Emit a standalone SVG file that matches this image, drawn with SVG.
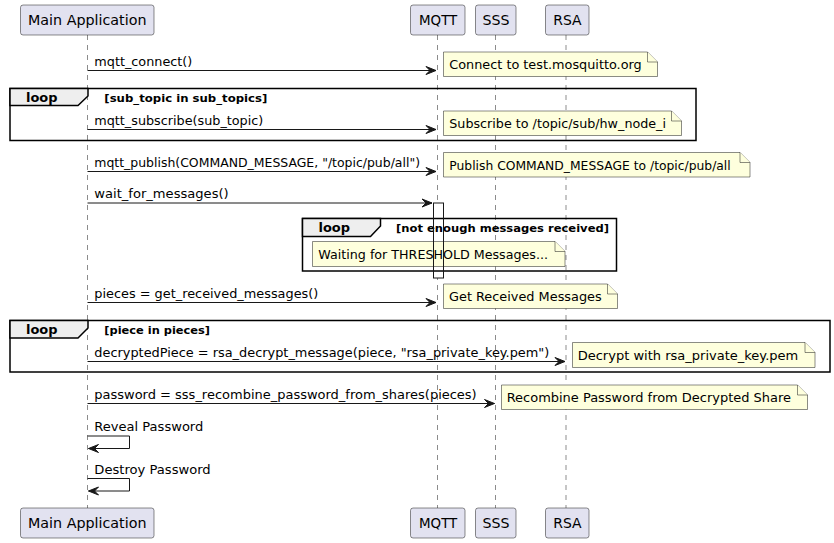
<svg xmlns="http://www.w3.org/2000/svg" width="834" height="543" viewBox="0 0 834 543">
<defs>
<style>
text{font-family:"DejaVu Sans","Liberation Sans",sans-serif;fill:#000}
.pbox{fill:#E2E2F0;stroke:#181818;stroke-width:0.5}
.pt{font-size:14px}
.life{stroke:#181818;stroke-width:0.5;stroke-dasharray:5,5;fill:none}
.msg{stroke:#181818;stroke-width:1;fill:none}
.head{fill:#181818;stroke:#181818;stroke-width:1}
.mt{font-size:13px}
.note{fill:#FEFFDD;stroke:#181818;stroke-width:0.5}
.nt{font-size:13px}
.frame{fill:none;stroke:#000;stroke-width:1.5}
.tab{fill:#EEEEEE;stroke:#000;stroke-width:1.5}
.lk{font-size:13px;font-weight:bold}
.lc{font-size:11px;font-weight:bold}
</style>
</defs>
<rect width="834" height="543" fill="#FFFFFF"/>

<g id="lifelines">
<line class="life" x1="87.5" y1="35" x2="87.5" y2="508"/>
<line class="life" x1="437.5" y1="35" x2="437.5" y2="508"/>
<line class="life" x1="495.5" y1="35" x2="495.5" y2="508"/>
<line class="life" x1="566" y1="35" x2="566" y2="508"/>
</g>

<g id="participant-main">
<rect class="pbox" x="20.5" y="5" width="133.5" height="30" rx="2.5"/>
<text class="pt" x="28" y="24.5" textLength="118.5" lengthAdjust="spacingAndGlyphs">Main Application</text>
<rect class="pbox" x="20.5" y="508" width="133.5" height="30" rx="2.5"/>
<text class="pt" x="28" y="527.5" textLength="118.5" lengthAdjust="spacingAndGlyphs">Main Application</text>
</g>
<g id="participant-mqtt">
<rect class="pbox" x="410.5" y="5" width="54.5" height="30" rx="2.5"/>
<text class="pt" x="419" y="24.5" textLength="38.3" lengthAdjust="spacingAndGlyphs">MQTT</text>
<rect class="pbox" x="410.5" y="508" width="54.5" height="30" rx="2.5"/>
<text class="pt" x="419" y="527.5" textLength="38.3" lengthAdjust="spacingAndGlyphs">MQTT</text>
</g>
<g id="participant-sss">
<rect class="pbox" x="475.5" y="5" width="40.5" height="30" rx="2.5"/>
<text class="pt" x="482.5" y="24.5" textLength="27" lengthAdjust="spacingAndGlyphs">SSS</text>
<rect class="pbox" x="475.5" y="508" width="40.5" height="30" rx="2.5"/>
<text class="pt" x="482.5" y="527.5" textLength="27" lengthAdjust="spacingAndGlyphs">SSS</text>
</g>
<g id="participant-rsa">
<rect class="pbox" x="545.5" y="5" width="43.5" height="30" rx="2.5"/>
<text class="pt" x="553.3" y="24.5" textLength="28.3" lengthAdjust="spacingAndGlyphs">RSA</text>
<rect class="pbox" x="545.5" y="508" width="43.5" height="30" rx="2.5"/>
<text class="pt" x="553.3" y="527.5" textLength="28.3" lengthAdjust="spacingAndGlyphs">RSA</text>
</g>

<g id="activation-fill">
<rect x="433.5" y="203" width="10" height="75" fill="#FFFFFF"/>
</g>

<g id="loop-1">
<rect class="frame" x="10" y="88.5" width="686" height="52"/>
<path class="tab" d="M10,88.5 L88,88.5 L88,96 L78,105.5 L10,105.5 Z"/>
<text class="lk" x="26" y="101.5" textLength="31.5" lengthAdjust="spacingAndGlyphs">loop</text>
<text class="lc" x="104.3" y="101.5" textLength="163" lengthAdjust="spacingAndGlyphs">[sub_topic in sub_topics]</text>
</g>
<g id="loop-2">
<rect class="frame" x="302.5" y="218.5" width="314" height="52.5"/>
<path class="tab" d="M302.5,218.5 L380.5,218.5 L380.5,226 L370.5,236.5 L302.5,236.5 Z"/>
<text class="lk" x="318.5" y="231.5" textLength="31.5" lengthAdjust="spacingAndGlyphs">loop</text>
<text class="lc" x="396" y="231.5" textLength="213" lengthAdjust="spacingAndGlyphs">[not enough messages received]</text>
</g>
<g id="loop-3">
<rect class="frame" x="10" y="320.5" width="820" height="51.5"/>
<path class="tab" d="M10,320.5 L88,320.5 L88,328 L78,338 L10,338 Z"/>
<text class="lk" x="26" y="333.5" textLength="31.5" lengthAdjust="spacingAndGlyphs">loop</text>
<text class="lc" x="104.3" y="333.5" textLength="105.7" lengthAdjust="spacingAndGlyphs">[piece in pieces]</text>
</g>

<g id="connectors">
<line class="msg" x1="87.5" y1="70.5" x2="436" y2="70.5"/>
<polygon class="head" points="426,66.5 436,70.5 426,74.5 430,70.5"/>
<text class="mt" x="94.3" y="65.5" textLength="98" lengthAdjust="spacingAndGlyphs">mqtt_connect()</text>

<line class="msg" x1="87.5" y1="129.5" x2="436" y2="129.5"/>
<polygon class="head" points="426,125.5 436,129.5 426,133.5 430,129.5"/>
<text class="mt" x="94.3" y="124.5" textLength="169" lengthAdjust="spacingAndGlyphs">mqtt_subscribe(sub_topic)</text>

<line class="msg" x1="87.5" y1="171.5" x2="436" y2="171.5"/>
<polygon class="head" points="426,167.5 436,171.5 426,175.5 430,171.5"/>
<text class="mt" x="94.3" y="166.5" textLength="325.7" lengthAdjust="spacingAndGlyphs">mqtt_publish(COMMAND_MESSAGE, "/topic/pub/all")</text>

<line class="msg" x1="87.5" y1="203" x2="432" y2="203"/>
<polygon class="head" points="422,199 432,203 422,207 426,203"/>
<text class="mt" x="94.3" y="198" textLength="134.4" lengthAdjust="spacingAndGlyphs">wait_for_messages()</text>

<line class="msg" x1="87.5" y1="302.5" x2="436" y2="302.5"/>
<polygon class="head" points="426,298.5 436,302.5 426,306.5 430,302.5"/>
<text class="mt" x="94.3" y="297.5" textLength="224" lengthAdjust="spacingAndGlyphs">pieces = get_received_messages()</text>

<line class="msg" x1="87.5" y1="361.5" x2="565" y2="361.5"/>
<polygon class="head" points="555,357.5 565,361.5 555,365.5 559,361.5"/>
<text class="mt" x="94.3" y="356.5" textLength="455" lengthAdjust="spacingAndGlyphs">decryptedPiece = rsa_decrypt_message(piece, "rsa_private_key.pem")</text>

<line class="msg" x1="87.5" y1="403.5" x2="494.5" y2="403.5"/>
<polygon class="head" points="484.5,399.5 494.5,403.5 484.5,407.5 488.5,403.5"/>
<text class="mt" x="94.3" y="398.5" textLength="382.4" lengthAdjust="spacingAndGlyphs">password = sss_recombine_password_from_shares(pieces)</text>

<polyline class="msg" points="87.5,436 129.5,436 129.5,448.5 88.5,448.5"/>
<polygon class="head" points="98.5,444.5 88.5,448.5 98.5,452.5 94.5,448.5"/>
<text class="mt" x="94.3" y="431" textLength="109" lengthAdjust="spacingAndGlyphs">Reveal Password</text>

<polyline class="msg" points="87.5,478.5 129.5,478.5 129.5,491 88.5,491"/>
<polygon class="head" points="98.5,487 88.5,491 98.5,495 94.5,491"/>
<text class="mt" x="94.3" y="473.5" textLength="116.4" lengthAdjust="spacingAndGlyphs">Destroy Password</text>
</g>

<g id="note-connect">
<path class="note" d="M443.5,52 L443.5,76.5 L657.5,76.5 L657.5,62 L647.5,52 Z"/>
<path class="note" d="M647.5,52 L647.5,62 L657.5,62"/>
<text class="nt" x="449.3" y="69" textLength="192.4" lengthAdjust="spacingAndGlyphs">Connect to test.mosquitto.org</text>
</g>
<g id="note-subscribe">
<path class="note" d="M443.5,111 L443.5,135.5 L681.5,135.5 L681.5,121 L671.5,111 Z"/>
<path class="note" d="M671.5,111 L671.5,121 L681.5,121"/>
<text class="nt" x="449.3" y="128" textLength="216.7" lengthAdjust="spacingAndGlyphs">Subscribe to /topic/sub/hw_node_i</text>
</g>
<g id="note-publish">
<path class="note" d="M443.5,152.5 L443.5,177 L750,177 L750,162.5 L740,152.5 Z"/>
<path class="note" d="M740,152.5 L740,162.5 L750,162.5"/>
<text class="nt" x="449.3" y="169.5" textLength="281.4" lengthAdjust="spacingAndGlyphs">Publish COMMAND_MESSAGE to /topic/pub/all</text>
</g>
<g id="note-waiting">
<path class="note" d="M312.5,241.5 L312.5,266.5 L565,266.5 L565,251.5 L555,241.5 Z"/>
<path class="note" d="M555,241.5 L555,251.5 L565,251.5"/>
<text class="nt" x="318.3" y="258.5" textLength="229.7" lengthAdjust="spacingAndGlyphs">Waiting for THRESHOLD Messages...</text>
</g>
<g id="note-received">
<path class="note" d="M443.5,284 L443.5,308.5 L617.5,308.5 L617.5,294 L607.5,284 Z"/>
<path class="note" d="M607.5,284 L607.5,294 L617.5,294"/>
<text class="nt" x="449" y="301" textLength="152.7" lengthAdjust="spacingAndGlyphs">Get Received Messages</text>
</g>
<g id="note-decrypt">
<path class="note" d="M572.5,342.5 L572.5,367.5 L815,367.5 L815,352.5 L805,342.5 Z"/>
<path class="note" d="M805,342.5 L805,352.5 L815,352.5"/>
<text class="nt" x="577.7" y="359.5" textLength="220.6" lengthAdjust="spacingAndGlyphs">Decrypt with rsa_private_key.pem</text>
</g>
<g id="note-recombine">
<path class="note" d="M501.5,385 L501.5,409.5 L807.5,409.5 L807.5,395 L797.5,385 Z"/>
<path class="note" d="M797.5,385 L797.5,395 L807.5,395"/>
<text class="nt" x="506.7" y="402" textLength="284.3" lengthAdjust="spacingAndGlyphs">Recombine Password from Decrypted Share</text>
</g>

<g id="activation-mqtt">
<rect x="433.5" y="203" width="10" height="75" fill="none" stroke="#181818" stroke-width="1"/>
</g>
</svg>
